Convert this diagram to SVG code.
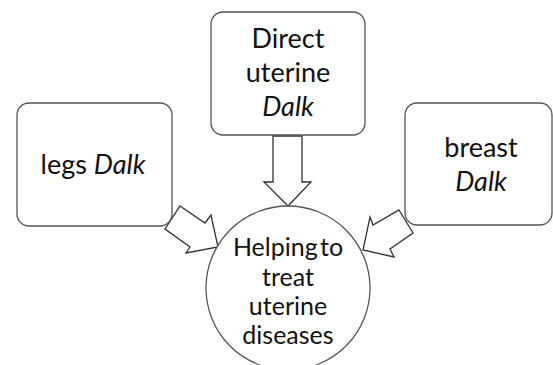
<svg xmlns="http://www.w3.org/2000/svg" width="553" height="365" viewBox="0 0 553 365">
<style>
.box{fill:#fff;stroke:#555;stroke-width:1.3}
.arr{fill:#fff;stroke:#333;stroke-width:1.3;stroke-linejoin:miter}
text{font-family:Lato,"Open Sans",sans-serif;font-size:27px;fill:#111;text-anchor:middle}
.c{font-size:25px}
.it{font-style:italic}
</style>
<rect width="553" height="365" fill="#fff"/>
<g id="connectors">
<polygon class="arr" points="273,136 302,136 302,182 311,182 288,206 264,182 273,182"/>
<polygon class="arr" points="180,206 205,223 211,215 218,247 186,253 190,247 165,229"/>
<polygon class="arr" points="399,210 413,233 390,249 394,257 363,250 370,217 373,225"/>
</g>
<g id="node-direct">
<rect class="box" x="211" y="12" width="154" height="123" rx="12"/>
<text x="288" y="48">Direct</text>
<text x="288" y="82">uterine</text>
<text x="288" y="116" class="it">Dalk</text>
</g>
<g id="node-legs">
<rect class="box" x="17" y="103" width="155" height="123" rx="12"/>
<text x="93" y="174">legs <tspan class="it">Dalk</tspan></text>
</g>
<g id="node-breast">
<rect class="box" x="405" y="103" width="147" height="122" rx="12"/>
<text x="481" y="157">breast</text>
<text x="481" y="191" class="it">Dalk</text>
</g>
<g id="node-center">
<circle class="box" cx="288" cy="288" r="82"/>
<text class="c" x="288" y="256" word-spacing="-4">Helping to</text>
<text class="c" x="288" y="286">treat</text>
<text class="c" x="288" y="315">uterine</text>
<text class="c" x="288" y="344">diseases</text>
</g>
</svg>
